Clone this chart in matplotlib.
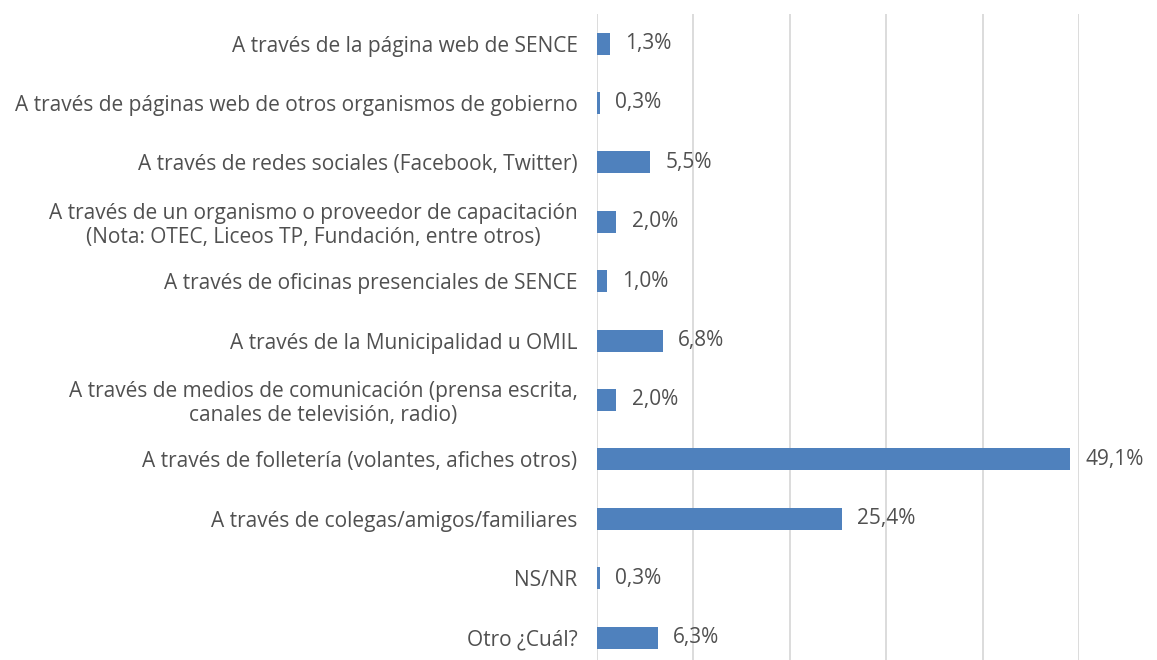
import matplotlib.pyplot as plt
from matplotlib import rcParams
import numpy as np

rcParams['font.family'] = ['Open Sans', 'DejaVu Sans']

categories = [
    'A través de la página web de SENCE',
    'A través de páginas web de otros organismos de gobierno',
    'A través de redes sociales (Facebook, Twitter)',
    'A través de un organismo o proveedor de capacitación\n(Nota: OTEC, Liceos TP, Fundación, entre otros)',
    'A través de oficinas presenciales de SENCE',
    'A través de la Municipalidad u OMIL',
    'A través de medios de comunicación (prensa escrita,\ncanales de televisión, radio)',
    'A través de folletería (volantes, afiches otros)',
    'A través de colegas/amigos/familiares',
    'NS/NR',
    'Otro ¿Cuál?',
]
values = [1.3, 0.3, 5.5, 2.0, 1.0, 6.8, 2.0, 49.1, 25.4, 0.3, 6.3]

text_color = '#505050'
bar_color = '#4F81BD'
fs = 15

fig = plt.figure(figsize=(11.57, 6.6), dpi=100)
ax = fig.add_axes([0.516, -0.011, 0.4166, 0.99])

y = np.arange(len(categories))
ax.barh(y, values, height=0.37, color=bar_color, zorder=3)

for yi, v in zip(y, values):
    ax.text(v + 1.6, yi, f'{v:.1f}%'.replace('.', ','), va='center', ha='left',
            fontsize=fs, color=text_color)

ax.set_yticks(y)
ax.set_yticklabels(categories, fontsize=fs, color=text_color, ha='right',
                   multialignment='center', linespacing=1.15)
ax.tick_params(axis='y', length=0, pad=14)
ax.set_ylim(len(categories) - 0.5, -0.5)

ax.set_xlim(0, 50)
ax.set_xticks(np.arange(0, 51, 10))
ax.tick_params(axis='x', length=0, labelbottom=False)
ax.grid(axis='x', color='#d9d9d9', linewidth=1.3, zorder=0)

for s in ax.spines.values():
    s.set_visible(False)

fig.savefig('out.png', dpi=100)
